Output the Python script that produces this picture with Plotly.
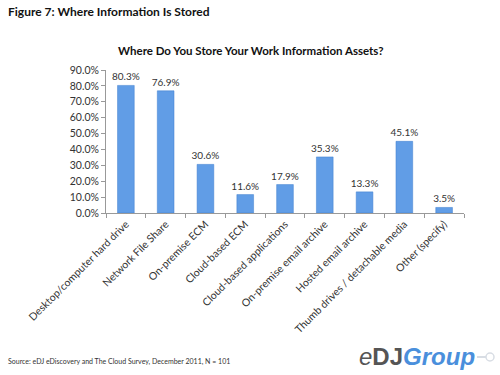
import plotly.graph_objects as go

categories = [
    "Desktop/computer hard drive",
    "Network File Share",
    "On-premise ECM",
    "Cloud-based ECM",
    "Cloud-based applications",
    "On-premise email archive",
    "Hosted email archive",
    "Thumb drives / detachable media",
    "Other (specify)",
]
values = [80.3, 76.9, 30.6, 11.6, 17.9, 35.3, 13.3, 45.1, 3.5]
tick_vals = [0, 10, 20, 30, 40, 50, 60, 70, 80, 90]
tick_text = [f"{v:.1f}%" for v in tick_vals]

FONT = "Lato, Carlito, Liberation Sans, sans-serif"

fig = go.Figure(go.Bar(
    x=categories,
    y=values,
    text=[f"{v:.1f}%" for v in values],
    textposition="outside",
    constraintext="none",
    textfont=dict(size=10, color="#333333", family=FONT),
    cliponaxis=False,
    width=0.42,
    marker=dict(color="#619de6", line=dict(color="#3f7fcf", width=0.5)),
))

fig.update_layout(
    width=500, height=375,
    margin=dict(l=106, r=36, t=70, b=162),
    paper_bgcolor="white", plot_bgcolor="white",
    showlegend=False,
    font=dict(family=FONT, color="#333333"),
    xaxis=dict(
        tickangle=-45, tickson="boundaries", ticks="outside", ticklen=4,
        tickcolor="#999999", showline=True, linecolor="#999999", linewidth=1,
        tickfont=dict(size=10.5, color="#333333"), showgrid=False,
    ),
    yaxis=dict(
        range=[0, 90], tickvals=tick_vals, ticktext=tick_text,
        ticks="outside", ticklen=4, tickcolor="#999999",
        showline=True, linecolor="#999999", linewidth=1,
        showgrid=False, zeroline=False,
        tickfont=dict(size=10.5, color="#333333"),
    ),
    shapes=[
        dict(type="line", xref="paper", yref="paper",
             x0=(477-106)/358, x1=(488-106)/358,
             y0=-(357-213)/143, y1=-(357-213)/143,
             line=dict(color="#d8dde4", width=2)),
        dict(type="circle", xref="paper", yref="paper",
             x0=(486-106)/358, x1=(494-106)/358,
             y0=-(361-213)/143, y1=-(353-213)/143,
             line=dict(color="#d8dde4", width=1.5), fillcolor="white"),
    ],
    annotations=[
        dict(text="<b>Figure 7: Where Information Is Stored</b>", xref="paper", yref="paper",
             x=-100/358, y=1 + 58/143, xanchor="left", yanchor="middle", showarrow=False,
             font=dict(size=12, color="#111111", family=FONT)),
        dict(text="<b>Where Do You Store Your Work Information Assets?</b>", xref="paper", yref="paper",
             x=(116-106)/358, y=1 + 20/143, xanchor="left", yanchor="middle", showarrow=False,
             font=dict(size=11.5, color="#111111", family=FONT)),
        dict(text="Source: eDJ eDiscovery and The Cloud Survey, December 2011, N = 101", xref="paper", yref="paper",
             x=-100/358, y=-(361-213)/143, xanchor="left", yanchor="middle", showarrow=False,
             font=dict(size=7, color="#333333", family=FONT)),
        dict(text="<i><span style='color:#555555'>e</span></i><b><span style='color:#555555'>DJ</span><i><span style='color:#4a8fdc'>Group</span></i></b>",
             xref="paper", yref="paper",
             x=(477-106)/358, y=-(356-213)/143, xanchor="right", yanchor="middle", showarrow=False,
             font=dict(size=24, family="Liberation Sans, Arial, sans-serif")),
    ],
)

fig.write_html("out.html", config={"displayModeBar": False},
               post_script="document.body.style.margin='0px';")
